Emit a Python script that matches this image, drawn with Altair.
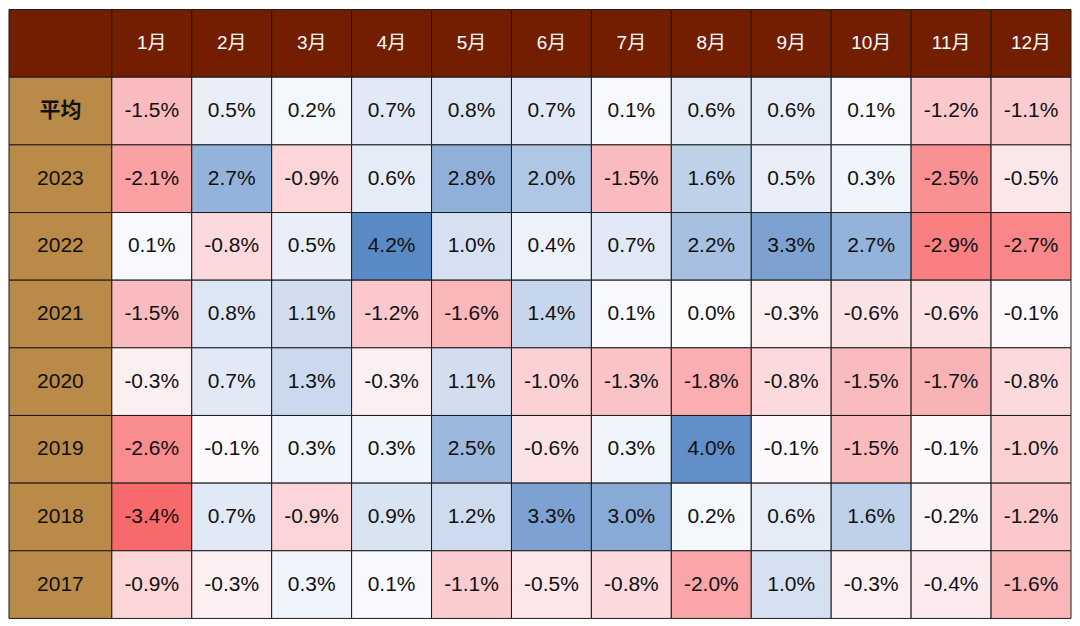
import altair as alt
import pandas as pd

months = ["1月", "2月", "3月", "4月", "5月", "6月", "7月", "8月", "9月", "10月", "11月", "12月"]
row_labels = ["平均", "2023", "2022", "2021", "2020", "2019", "2018", "2017"]
v_avg = [-1.5, 0.5, 0.2, 0.7, 0.8, 0.7, 0.1, 0.6, 0.6, 0.1, -1.2, -1.1]
v_2023 = [-2.1, 2.7, -0.9, 0.6, 2.8, 2.0, -1.5, 1.6, 0.5, 0.3, -2.5, -0.5]
v_2022 = [0.1, -0.8, 0.5, 4.2, 1.0, 0.4, 0.7, 2.2, 3.3, 2.7, -2.9, -2.7]
v_2021 = [-1.5, 0.8, 1.1, -1.2, -1.6, 1.4, 0.1, 0.0, -0.3, -0.6, -0.6, -0.1]
v_2020 = [-0.3, 0.7, 1.3, -0.3, 1.1, -1.0, -1.3, -1.8, -0.8, -1.5, -1.7, -0.8]
v_2019 = [-2.6, -0.1, 0.3, 0.3, 2.5, -0.6, 0.3, 4.0, -0.1, -1.5, -0.1, -1.0]
v_2018 = [-3.4, 0.7, -0.9, 0.9, 1.2, 3.3, 3.0, 0.2, 0.6, 1.6, -0.2, -1.2]
v_2017 = [-0.9, -0.3, 0.3, 0.1, -1.1, -0.5, -0.8, -2.0, 1.0, -0.3, -0.4, -1.6]
series = [v_avg, v_2023, v_2022, v_2021, v_2020, v_2019, v_2018, v_2017]

HDR = "表头"
y_order = [HDR] + row_labels
header_bg = "#731E00"
label_bg = "#BA8A48"
FONT = "Liberation Sans, Arial, Noto Sans CJK SC"

body = pd.DataFrame(
    [{"row": r, "month": m, "value": v, "label": f"{v:.1f}%"}
     for r, vals in zip(row_labels, series) for m, v in zip(months, vals)]
)
header = pd.DataFrame({"row": [HDR] * len(months), "month": months})
left = pd.DataFrame({"row": y_order, "label": [""] + row_labels})

Y = alt.Y("row:N", scale=alt.Scale(domain=y_order, paddingInner=0, paddingOuter=0), axis=None)
X = alt.X("month:N", scale=alt.Scale(domain=months, paddingInner=0, paddingOuter=0), axis=None)

W_LEFT, W_RIGHT, H = 103, 961, 610
GRID = "#1a1a1a"

left_hdr = alt.Chart(left).transform_filter(alt.datum.row == HDR).mark_rect(
    stroke=GRID, strokeWidth=1, color=header_bg
).encode(y=Y)
left_lbl = alt.Chart(left).transform_filter(alt.datum.row != HDR).mark_rect(
    stroke=GRID, strokeWidth=1, color=label_bg
).encode(y=Y)
left_text_bold = alt.Chart(left).transform_filter(alt.datum.label == "平均").mark_text(
    font=FONT, fontSize=21, fontWeight="bold", color="#111111"
).encode(y=Y, text="label:N")
left_text = alt.Chart(left).transform_filter(alt.datum.label != "平均").mark_text(
    font=FONT, fontSize=21, color="#111111"
).encode(y=Y, text="label:N")
left_chart = alt.layer(left_hdr, left_lbl, left_text_bold, left_text).properties(width=W_LEFT, height=H)

hdr_rect = alt.Chart(header).mark_rect(stroke=GRID, strokeWidth=1, color=header_bg).encode(x=X, y=Y)
hdr_text = alt.Chart(header).mark_text(font=FONT, fontSize=19, color="white").encode(x=X, y=Y, text="month:N")
body_rect = alt.Chart(body).mark_rect(stroke=GRID, strokeWidth=1).encode(
    x=X, y=Y,
    color=alt.Color("value:Q", scale=alt.Scale(domain=[-3.4, 0, 4.2], interpolate="rgb",
                                                 range=["#F8696B", "#FCFCFF", "#5A8AC6"]), legend=None),
)
body_text = alt.Chart(body).mark_text(font=FONT, fontSize=21, color="#111111").encode(
    x=X, y=Y, text="label:N"
)
right_chart = alt.layer(hdr_rect, hdr_text, body_rect, body_text).properties(width=W_RIGHT, height=H)

chart = alt.hconcat(left_chart, right_chart, spacing=0, bounds="flush").properties(padding=0).configure_view(
    strokeWidth=0
)
chart.save("out.html", embed_options={"renderer": "svg", "actions": False})
